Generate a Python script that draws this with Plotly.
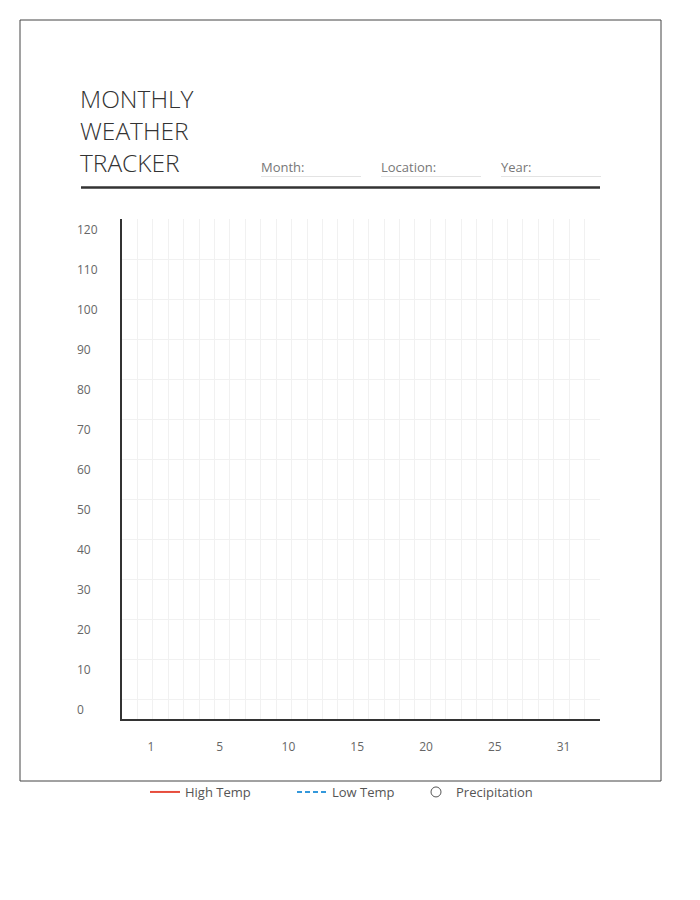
import plotly.graph_objects as go

# ---- data (blank tracker template: no readings recorded yet) ----
days = list(range(1, 32))
high_temp = [None] * len(days)
low_temp = [None] * len(days)
precipitation = [None] * len(days)
x_tick_labels = ["1", "5", "10", "15", "20", "25", "31"]
y_tick_values = [0, 10, 20, 30, 40, 50, 60, 70, 80, 90, 100, 110, 120]
title_lines = ["MONTHLY", "WEATHER", "TRACKER"]
fields = ["Month:", "Location:", "Year:"]

W, H = 700, 900
L, R, T, B = 20, 39, 20, 119
PW, PH = W - L - R, H - T - B


def px(x):
    return (x - L) / PW


def py(y):
    return (H - B - y) / PH


FONT = "Open Sans"
AXIS_DARK = "#333333"
GRID = "#f1f1f1"

fig = go.Figure()
fig.add_trace(go.Scatter(x=days, y=high_temp, mode="lines", name="High Temp",
                         legend="legend",
                         line=dict(color="#e74c3c", width=2)))
fig.add_trace(go.Scatter(x=days, y=low_temp, mode="lines", name="Low Temp",
                         legend="legend2",
                         line=dict(color="#3498db", width=2, dash="5px,3px")))
fig.add_trace(go.Scatter(x=days, y=precipitation, mode="markers", name="Precipitation",
                         legend="legend3",
                         marker=dict(symbol="circle-open", size=10, color="#555555",
                                     line=dict(width=1))))
# helpers so the label axes render
fig.add_trace(go.Scatter(x=[None], y=[None], xaxis="x2", yaxis="y", showlegend=False,
                         hoverinfo="skip"))
fig.add_trace(go.Scatter(x=[None], y=[None], xaxis="x", yaxis="y2", showlegend=False,
                         hoverinfo="skip"))

xdom = [px(122), px(600)]
ydom = [py(719), py(219)]
yr = [-5, 120]


def leg(text_x):
    return dict(orientation="h", x=px(text_x - 40), xanchor="left", y=py(792),
                yanchor="middle", itemwidth=30, font=dict(size=13, color="#555555"),
                bgcolor="rgba(0,0,0,0)", borderwidth=0)


fig.update_layout(
    width=W, height=H,
    margin=dict(l=L, r=R, t=T, b=B),
    paper_bgcolor="white", plot_bgcolor="white",
    font=dict(family=FONT, size=12, color="#666666"),
    xaxis=dict(domain=xdom, range=[0, 31], dtick=1, tick0=0, showgrid=True,
               gridcolor=GRID, gridwidth=1, zeroline=False, showticklabels=False,
               showline=True, linecolor=AXIS_DARK, linewidth=2, ticks="",
               fixedrange=True),
    xaxis2=dict(domain=xdom, overlaying="x", anchor="y", side="bottom",
                range=[-0.42, 6.53], tickmode="array",
                tickvals=list(range(len(x_tick_labels))), ticktext=x_tick_labels,
                showgrid=False, zeroline=False, showline=False, ticks="",
                ticklabelstandoff=19, tickfont=dict(size=12, color="#666666")),
    yaxis=dict(domain=ydom, range=yr, tickvals=y_tick_values, showgrid=True,
               gridcolor=GRID, gridwidth=1, zeroline=False, showticklabels=False,
               showline=True, linecolor=AXIS_DARK, linewidth=2, ticks=""),
    yaxis2=dict(overlaying="y", anchor="free", position=px(73), side="left",
                range=yr, tickvals=y_tick_values, ticklabelposition="inside",
                ticklabelshift=11, showgrid=False, zeroline=False, showline=False,
                ticks="", tickfont=dict(size=12, color="#666666")),
    showlegend=True,
    legend=leg(185),
    legend2=leg(332),
    legend3=leg(456),
)

shapes = [
    # outer border
    dict(type="rect", xref="paper", yref="paper", x0=0, x1=1, y0=0, y1=1,
         line=dict(color="#444444", width=1)),
    # heavy header rule
    dict(type="line", xref="paper", yref="paper", x0=px(81), x1=px(600),
         y0=py(187.5), y1=py(187.5), line=dict(color=AXIS_DARK, width=2.5)),
]
annotations = [
    dict(text="<br>".join(title_lines), xref="paper", yref="paper", x=px(78),
         y=py(130), xanchor="left", yanchor="middle", align="left", showarrow=False,
         font=dict(family=FONT, size=24.5, color="#333333", weight=300)),
]
for i, f in enumerate(fields):
    x0 = 261 + 120 * i
    shapes.append(dict(type="line", xref="paper", yref="paper", x0=px(x0),
                       x1=px(x0 + 100), y0=py(176.5), y1=py(176.5),
                       line=dict(color="#e3e3e3", width=1)))
    annotations.append(dict(text=f, xref="paper", yref="paper", x=px(x0 - 2),
                            y=py(167), xanchor="left", yanchor="middle",
                            showarrow=False,
                            font=dict(family=FONT, size=13, color="#777777")))

fig.update_layout(shapes=shapes, annotations=annotations)
fig.write_html("out.html", config={"displayModeBar": False})
